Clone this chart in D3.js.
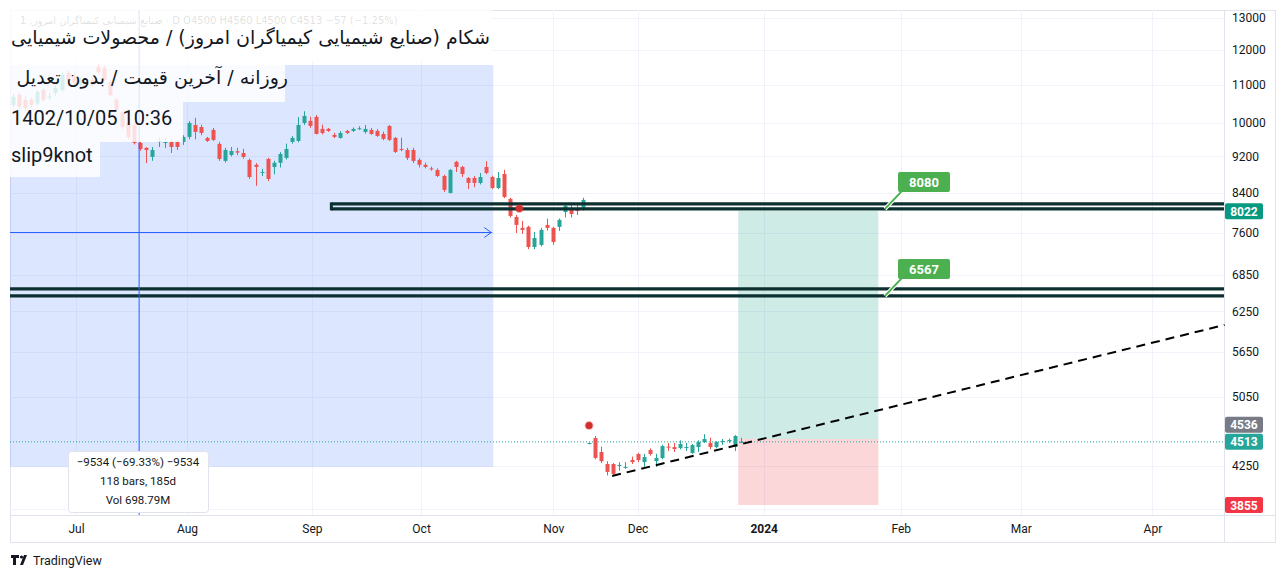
<!DOCTYPE html>
<html><head><meta charset="utf-8">
<script src="https://cdn.jsdelivr.net/npm/d3@7"></script>
<style>body{margin:0;background:#fff}svg{display:block}</style>
</head><body><svg id="c" width="1286" height="578"></svg>
<script>
// candles: [open, high, low, close]
const seg1 = [
[10464,10750,10400,10676],[10730,10800,10350,10412],[10595,10700,10300,10386],[10595,10650,10400,10464],
[10500,10860,10450,10807],[10862,10920,10550,10595],[10650,10780,10600,10690],[10780,10990,10700,10917],
[10862,11350,10800,11276],[11332,11400,11050,11137],[11220,11300,10990,11055],[11000,11200,10950,11137],
[11000,11150,10950,11080],[11137,11200,10950,11000],[11504,11600,11300,11360],[11475,11540,11100,11137],
[11080,11137,10680,10725],[10595,10650,10280,10334],[10257,10300,9850,9902],[10003,10050,9600,9660],
[9950,10000,9480,9515],[9515,9560,9330,9375],[9398,9420,9050,9351],[9189,9420,9100,9351],
[9540,9640,9420,9560],[9515,9620,9400,9540],[9540,9600,9280,9420],[9540,9590,9350,9420],
[9540,9700,9470,9660],[9660,10050,9600,10003],[9952,10130,9600,9781],[9902,9960,9700,9756],
[9636,9660,9540,9564],[9831,9880,9560,9588],[9493,9540,9100,9144],[9099,9400,9060,9351],
[9235,9420,9200,9328],[9320,9400,9230,9290],[9281,9380,9150,9189],[9121,9150,8700,8740],
[9010,9050,8550,8962],[8830,8920,8760,8852],[9144,9170,8650,8697],[8962,9100,8800,9055],
[9055,9300,8950,9258],[9167,9500,9130,9374],[9540,9680,9500,9636],[9564,10150,9530,9952],
[10003,10300,9950,10180],[10054,10160,9880,9928],[10155,10200,9720,9732],[9856,9960,9720,9756],
[9856,9880,9780,9806],[9708,9760,9630,9660],[9636,9800,9620,9756],[9806,9830,9730,9756],
[9806,9890,9780,9856],[9856,9920,9830,9870],[9781,9950,9740,9856],[9831,9880,9710,9732],
[9806,9850,9660,9684],[9732,9790,9580,9612],[9928,9950,9560,9588],[9636,9660,9280,9305],
[9374,9640,9320,9351],[9351,9400,9120,9167],[9351,9400,9050,9099],[9121,9160,8950,9010],
[9010,9060,8930,8962],[8930,8970,8880,8910],[8896,8930,8740,8762],[8762,8790,8420,8463],
[8400,8920,8390,8896],[9077,9100,8850,8962],[8962,8990,8740,8806],[8719,8740,8480,8612],
[8719,8760,8520,8612],[8612,8830,8580,8740],[8962,9090,8800,8830],[8740,8770,8480,8505],
[8505,8850,8480,8719],[8806,8900,8290,8316],[8275,8300,7900,7931],[7911,7950,7600,7755],
[7698,7834,7583,7659],[7717,7740,7300,7340],[7340,7620,7300,7507],[7377,7700,7350,7659],
[7756,7880,7650,7698],[7698,7720,7380,7432],[7717,7880,7640,7853],[8010,8160,7900,8134],
[8072,8180,7900,7970],[8072,8190,7950,8030],[8051,8300,8040,8255]
];
const seg2 = [
[4490,4505,4485,4500],[4556,4580,4320,4335],[4400,4460,4280,4300],[4270,4300,4150,4187],
[4270,4280,4150,4166],[4250,4290,4200,4260],[4230,4290,4220,4240],[4313,4350,4270,4291],
[4378,4390,4290,4313],[4291,4380,4240,4345],[4422,4440,4360,4378],[4302,4380,4240,4335],
[4335,4480,4320,4466],[4460,4500,4410,4450],[4455,4500,4400,4433],[4444,4530,4430,4488],
[4444,4500,4410,4455],[4390,4490,4380,4477],[4455,4530,4400,4511],[4511,4600,4500,4545],
[4500,4560,4430,4455],[4455,4520,4440,4511],[4511,4545,4480,4523],[4523,4550,4500,4534],
[4455,4590,4410,4580],[4500,4560,4500,4513]
];
const yTicks = [13000,12000,11000,10000,9200,8400,7600,6850,6250,5650,5050,4250,3820];
const monthLabels = ["Jul","Aug","Sep","Oct","Nov","Dec","2024","Feb","Mar","Apr"];
const monthBars = [10.4,28.7,49.3,67.3,89.1,103,123.8,146.4,166.2,187.9];
const levelLines = [8173,8072,6610,6496];
const levelLabels = [8080,6567];
const signalDots = [[83.5,8080],[95,4700]];
const trendLine = [[98.8,4145],[199.8,6042]];
const position = {entry:4545, target:8030, stop:3855, from:119.6, to:142.7};
const axisLabels = [[8022,"#089981",0],[4536,"#787b86",-17],[4513,"#26a69a",0],[3855,"#f23645",0]];
const titleLines = ["شکام (صنایع شیمیایی کیمیاگران امروز) / محصولات شیمیایی","روزانه / آخرین قیمت / بدون تعدیل","1402/10/05 10:36","slip9knot"];
const tipLines = ["−9534 (−69.33%) −9534","118 bars, 185d","Vol 698.79M"];

const candles = seg1.map((d,i)=>({i, o:d[0],h:d[1],l:d[2],c:d[3]}))
  .concat(seg2.map((d,i)=>({i:95+i, o:d[0],h:d[1],l:d[2],c:d[3]})));

const svg = d3.select("#c");
const L=10, R=1224, T=10, B=515;
const x = d3.scaleLinear().domain([0,94]).range([13,583]);
const y = d3.scaleLog().domain([3760,13260]).range([B,T]);
const font = "Roboto, 'Noto Sans', sans-serif";

svg.append("rect").attr("x",10.5).attr("y",10.5).attr("width",1265).attr("height",532).attr("fill","none").attr("stroke","#e0e3eb");
svg.append("line").attr("x1",10).attr("x2",1276).attr("y1",B+0.5).attr("y2",B+0.5).attr("stroke","#e0e3eb");
svg.append("line").attr("x1",R+0.5).attr("x2",R+0.5).attr("y1",10).attr("y2",543).attr("stroke","#e0e3eb");

const g = svg.append("g");
yTicks.forEach(t=>g.append("line").attr("x1",L).attr("x2",R).attr("y1",Math.round(y(t))+0.5).attr("y2",Math.round(y(t))+0.5).attr("stroke","#f0f3fa"));
monthBars.forEach(b=>g.append("line").attr("x1",Math.round(x(b))+0.5).attr("x2",Math.round(x(b))+0.5).attr("y1",T).attr("y2",B).attr("stroke","#f0f3fa"));

const yAx = d3.axisRight(y).tickValues(yTicks).tickFormat(d3.format("d")).tickSize(0).tickPadding(8);
const ya = svg.append("g").attr("transform",`translate(${R},0)`).call(yAx);
ya.select(".domain").remove();
ya.selectAll("text").attr("font-family",font).attr("font-size",12).attr("fill","#131722");

const xAx = d3.axisBottom(x).tickValues(monthBars).tickFormat((d,i)=>monthLabels[i]).tickSize(0).tickPadding(9);
const xa = svg.append("g").attr("transform",`translate(0,${B})`).call(xAx);
xa.select(".domain").remove();
xa.selectAll("text").attr("font-family",font).attr("font-size",12).attr("fill","#131722")
  .attr("font-weight",(d,i)=>monthLabels[i]==="2024"?"bold":"normal");

svg.append("rect").attr("x",L).attr("y",y(11561)).attr("width",x(79.2)-L).attr("height",y(4240)-y(11561)).attr("fill","rgba(41,98,255,0.16)");

svg.append("rect").attr("x",x(position.from)).attr("width",x(position.to)-x(position.from)).attr("y",y(position.target)).attr("height",y(position.entry)-y(position.target)).attr("fill","rgba(8,153,129,0.2)");
svg.append("rect").attr("x",x(position.from)).attr("width",x(position.to)-x(position.from)).attr("y",y(position.entry)).attr("height",y(position.stop)-y(position.entry)).attr("fill","rgba(242,54,69,0.2)");

svg.append("line").attr("x1",L).attr("x2",R).attr("y1",y(4513)).attr("y2",y(4513)).attr("stroke","#26a69a").attr("stroke-dasharray","1,2");

const cg = svg.append("g");
candles.forEach(d=>{
  const col = d.c>=d.o?"#26a69a":"#ef5350";
  const cx = Math.round(x(d.i));
  cg.append("line").attr("x1",cx+0.5).attr("x2",cx+0.5).attr("y1",y(d.h)).attr("y2",y(d.l)).attr("stroke",col);
  const top=y(Math.max(d.o,d.c)), bot=y(Math.min(d.o,d.c));
  cg.append("rect").attr("x",cx-1.5).attr("width",4).attr("y",top).attr("height",Math.max(1,bot-top)).attr("fill",col);
});

levelLines.forEach((v,i)=>svg.append("line").attr("x1",i<2?x(52.5):L).attr("x2",R).attr("y1",y(v)).attr("y2",y(v)).attr("stroke","#0c3030").attr("stroke-width",3.2));
svg.append("line").attr("x1",x(52.5)).attr("x2",x(52.5)).attr("y1",y(levelLines[0])-1.5).attr("y2",y(levelLines[1])+1.5).attr("stroke","#0c3030").attr("stroke-width",3);
levelLabels.forEach((v,i)=>{
  const ly = i===0? y(levelLines[1]) : y(levelLines[3]);
  const by = ly-37;
  svg.append("line").attr("x1",885).attr("y1",ly).attr("x2",903).attr("y2",by+18).attr("stroke","#fff").attr("stroke-width",4);
  svg.append("line").attr("x1",885).attr("y1",ly).attr("x2",903).attr("y2",by+18).attr("stroke","#4caf50").attr("stroke-width",2);
  svg.append("rect").attr("x",898).attr("y",by).attr("width",52).attr("height",20).attr("rx",2).attr("fill","#4caf50");
  svg.append("text").attr("x",924).attr("y",by+15).attr("text-anchor","middle").attr("font-family",font).attr("font-size",13).attr("font-weight","bold").attr("fill","#fff").text(v);
});

svg.append("line").attr("x1",x(trendLine[0][0])).attr("y1",y(trendLine[0][1])).attr("x2",x(trendLine[1][0])).attr("y2",y(trendLine[1][1])).attr("stroke","#000").attr("stroke-width",2).attr("stroke-dasharray","9,6");

signalDots.forEach(d=>svg.append("circle").attr("cx",x(d[0])).attr("cy",y(d[1])).attr("r",3.5).attr("fill","#d32f2f").attr("stroke","rgba(211,47,47,0.35)").attr("stroke-width",2));

svg.append("line").attr("x1",x(20.8)).attr("x2",x(20.8)).attr("y1",T).attr("y2",B).attr("stroke","#2962ff").attr("stroke-width",1);
const ay = Math.round(y(7620))+0.5;
svg.append("line").attr("x1",L).attr("x2",x(79.2)-1).attr("y1",ay).attr("y2",ay).attr("stroke","#2962ff");
svg.append("path").attr("d",`M${x(79.2)-9},${ay-5}L${x(79.2)-2},${ay}L${x(79.2)-9},${ay+5}`).attr("fill","none").attr("stroke","#2962ff");

const boxes=[[10,10,482,52],[10,62,275,40],[10,102,173,40],[10,142,90,35]];
boxes.forEach(b=>svg.append("rect").attr("x",b[0]).attr("y",b[1]).attr("width",b[2]).attr("height",b[3]).attr("fill","rgba(255,255,255,0.82)"));
svg.append("text").attr("x",20).attr("y",24).attr("font-family","'DejaVu Sans',sans-serif").attr("font-size",10).attr("fill","rgba(19,23,34,0.15)")
  .text("صنایع شیمیایی کیمیاگران امروز, 1 · D  O4500  H4560  L4500  C4513  −57 (−1.25%)");
svg.append("text").attr("x",490).attr("y",44).attr("direction","rtl").attr("text-anchor","start").attr("font-family","'DejaVu Sans',sans-serif").attr("font-size",19).attr("fill","#131722").text(titleLines[0]);
svg.append("text").attr("x",288).attr("y",84).attr("direction","rtl").attr("text-anchor","start").attr("font-family","'DejaVu Sans',sans-serif").attr("font-size",19).attr("fill","#131722").text(titleLines[1]);
svg.append("text").attr("x",11).attr("y",125).attr("font-family",font).attr("font-size",20).attr("fill","#131722").text(titleLines[2]);
svg.append("text").attr("x",11).attr("y",162).attr("font-family",font).attr("font-size",20).attr("fill","#131722").text(titleLines[3]);

svg.append("rect").attr("x",68.5).attr("y",451.5).attr("width",140).attr("height",61).attr("rx",3).attr("fill","#fff").attr("stroke","#e0e3eb");
tipLines.forEach((t,i)=>svg.append("text").attr("x",138).attr("y",466+i*19).attr("text-anchor","middle").attr("font-family",font).attr("font-size",11.5).attr("fill","#131722").text(t));

axisLabels.forEach(a=>{
  const yy=y(a[0]) + (a[2] ? (y(4513)-y(a[0]))+a[2] : 0);
  svg.append("rect").attr("x",R+1).attr("y",yy-8).attr("width",38).attr("height",16).attr("rx",2).attr("fill",a[1]);
  svg.append("text").attr("x",R+20).attr("y",yy+4.5).attr("text-anchor","middle").attr("font-family",font).attr("font-size",12).attr("font-weight","bold").attr("fill","#fff").text(a[0]);
});

svg.append("text").attr("x",33).attr("y",565).attr("font-family",font).attr("font-size",12.5).attr("fill","#131722").text("TradingView");
svg.append("path").attr("d","M11,555h8v3h-3v7h-3v-7h-2z M20,565l4,-10h3l-4,10z").attr("fill","#131722");
svg.append("circle").attr("cx",21.5).attr("cy",557).attr("r",1.6).attr("fill","#131722");
</script></body></html>
